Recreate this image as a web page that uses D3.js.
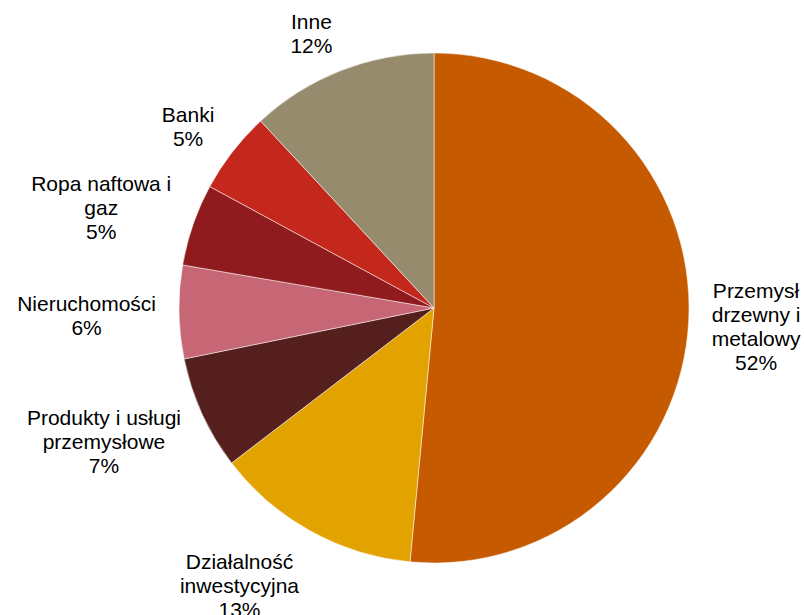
<!DOCTYPE html>
<html>
<head>
<meta charset="utf-8">
<script src="https://cdn.jsdelivr.net/npm/d3@7"></script>
<style>
  body { margin: 0; background: #fff; }
  svg { display: block; }
  text { font-family: "Liberation Sans", Arial, sans-serif; font-size: 21px; fill: #000; }
</style>
</head>
<body>
<svg id="chart" width="804" height="615"></svg>
<script>
// dane (kolejność zgodnie z ruchem wskazówek zegara, od godziny 12)
const categories = [
    "Przemysł\ndrzewny i\nmetalowy",
    "Działalność\ninwestycyjna",
    "Produkty i usługi\nprzemysłowe",
    "Nieruchomości",
    "Ropa naftowa i\ngaz",
    "Banki",
    "Inne"
];
const shares = [51.5, 13.1, 7.2, 5.9, 5.2, 5.2, 11.9];
const sliceColors = ["#c55a00", "#e2a200", "#551f1d", "#c76674", "#901b1e", "#c4281c", "#978b6d"];

const width = 804, height = 615;
const cx = 434, cy = 308, radius = 255;
const lineH = 24;

const svg = d3.select('#chart');
const g = svg.append('g').attr('transform', `translate(${cx},${cy})`);

const pie = d3.pie().sort(null).value(d => d.value);
const arc = d3.arc().innerRadius(0).outerRadius(radius);

const data = categories.map((c, i) => ({ name: c, value: shares[i], color: sliceColors[i] }));
const arcs = pie(data);

// wycinki
g.selectAll('path.slice')
    .data(arcs)
    .join('path')
    .attr('class', 'slice')
    .attr('d', arc)
    .attr('fill', d => d.data.color)
    .attr('stroke', '#fff')
    .attr('stroke-width', 0.5);

// etykiety
const labelR = radius + 23;
const labels = g.selectAll('text.lbl')
    .data(arcs)
    .join('text')
    .attr('class', 'lbl')
    .attr('text-anchor', 'middle');

labels.each(function(d) {
    const t = d3.select(this);
    const lines = d.data.name.split('\n').concat([Math.round(d.data.value) + '%']);
    lines.forEach((ln, i) => {
        t.append('tspan').attr('x', 0).attr('y', i * lineH).text(ln);
    });
    const mid = (d.startAngle + d.endAngle) / 2;
    const ux = Math.sin(mid), uy = -Math.cos(mid);
    const bb = this.getBBox();
    const sx = Math.max(-1, Math.min(1, ux * 3));
    const sy = Math.max(-1, Math.min(1, uy * 1.2));
    const px = ux * labelR + sx * bb.width / 2;
    const py = uy * labelR + sy * bb.height / 2 + 3 - 5 * uy;
    const bx = bb.x + bb.width / 2, by = bb.y + bb.height / 2;
    t.attr('transform', `translate(${px - bx},${py - by})`);
});
</script>
</body>
</html>
